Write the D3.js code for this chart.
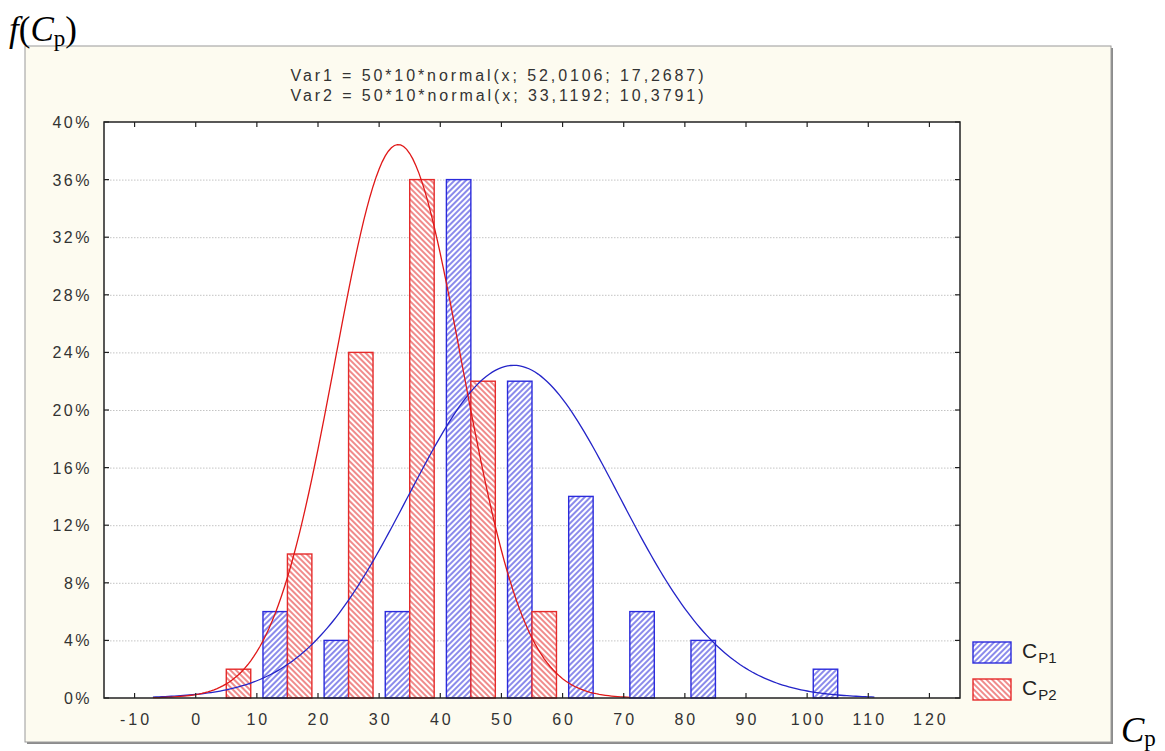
<!DOCTYPE html>
<html>
<head>
<meta charset="utf-8">
<script src="https://cdn.jsdelivr.net/npm/d3@7"></script>
<style>
  html, body { margin: 0; padding: 0; background: #ffffff; }
  svg { display: block; }
  .tick-label { font-family: 'Liberation Sans', Arial, sans-serif; font-size: 16px; fill: #333; }
  .serif { font-family: 'Liberation Serif', 'Times New Roman', serif; fill: #000; }
</style>
</head>
<body>
<svg id="chart" width="1165" height="751"></svg>
<script>
// histogram bins (centre of each 10-wide class) and percentages
const binCenters = [5, 15, 25, 35, 45, 55, 65, 75, 85, 95, 105];
const cp1Values = [0, 6, 4, 6, 36, 22, 14, 6, 4, 0, 2];
const cp2Values = [2, 10, 24, 36, 22, 6, 0, 0, 0, 0, 0];

// fitted normal curves, as printed in the chart header
const fitNames = ['Var1', 'Var2'];
const fitMeans = [52.0106, 33.1192];
const fitSigmas = [17.2687, 10.3791];
const fitFrom = [-7, -7];
const fitTo = [111, 71];

const xTickLabels = [-10, 0, 10, 20, 30, 40, 50, 60, 70, 80, 90, 100, 110, 120];
const yTickLabels = [0, 4, 8, 12, 16, 20, 24, 28, 32, 36, 40];

const seriesColors = ['#2b2bdc', '#e52b2b'];
const curveColors = ['#2424c8', '#e01818'];

const svg = d3.select('#chart');
const defs = svg.append('defs');

const plot = { left: 104, right: 960, top: 122, bottom: 698 };

const x = d3.scaleLinear().domain([-15, 125]).range([plot.left, plot.right]);
const y = d3.scaleLinear().domain([0, 40]).range([plot.bottom, plot.top]);

// hatch patterns: "/" for CP1, "\" for CP2
[45, -45].forEach((angle, i) => {
  const p = defs
    .append('pattern')
    .attr('id', `hatch${i}`)
    .attr('patternUnits', 'userSpaceOnUse')
    .attr('width', 4)
    .attr('height', 4)
    .attr('patternTransform', `rotate(${angle})`);
  p.append('rect').attr('width', 4).attr('height', 4).attr('fill', '#fff');
  p.append('line')
    .attr('x1', 1)
    .attr('y1', 0)
    .attr('x2', 1)
    .attr('y2', 4)
    .attr('stroke', seriesColors[i])
    .attr('stroke-width', 1.1);
});

// outer frame
svg
  .append('rect')
  .attr('x', 27)
  .attr('y', 48)
  .attr('width', 1086)
  .attr('height', 696)
  .attr('fill', '#8c8c8c');
svg
  .append('rect')
  .attr('x', 25)
  .attr('y', 46)
  .attr('width', 1086)
  .attr('height', 696)
  .attr('fill', '#fdfbf0')
  .attr('stroke', '#9a9a9a')
  .attr('stroke-width', 1);

// plot area
svg
  .append('rect')
  .attr('x', plot.left)
  .attr('y', plot.top)
  .attr('width', plot.right - plot.left)
  .attr('height', plot.bottom - plot.top)
  .attr('fill', '#fff');

// grid
svg
  .append('g')
  .selectAll('line')
  .data(yTickLabels.filter(v => v > 0 && v < 40))
  .enter()
  .append('line')
  .attr('x1', plot.left)
  .attr('x2', plot.right)
  .attr('y1', d => y(d) + 0.5)
  .attr('y2', d => y(d) + 0.5)
  .attr('stroke', '#c4c4c4')
  .attr('stroke-width', 1)
  .attr('stroke-dasharray', '1.5,1.5');

// bars
const series = [cp1Values, cp2Values];
series.forEach((values, i) => {
  const bars = binCenters
    .map((c, j) => ({ c, v: values[j] }))
    .filter(d => d.v > 0);
  svg
    .append('g')
    .selectAll('rect')
    .data(bars)
    .enter()
    .append('rect')
    .attr('x', d => (i === 0 ? x(d.c - 4) : x(d.c)))
    .attr('y', d => y(d.v))
    .attr('width', d => x(d.c) - x(d.c - 4))
    .attr('height', d => y(0) - y(d.v))
    .attr('fill', `url(#hatch${i})`)
    .attr('stroke', seriesColors[i])
    .attr('stroke-width', 1.4);
});

// fitted curves: 50*10*normal(x; m; s) counts of 50 cases -> percent
fitMeans.forEach((m, i) => {
  const s = fitSigmas[i];
  const pts = d3.range(fitFrom[i], fitTo[i] + 0.01, 0.5).map(v => {
    const pdf = Math.exp(-0.5 * ((v - m) / s) ** 2) / (s * Math.sqrt(2 * Math.PI));
    return [v, (50 * 10 * pdf * 100) / 50];
  });
  svg
    .append('path')
    .datum(pts)
    .attr('fill', 'none')
    .attr('stroke', curveColors[i])
    .attr('stroke-width', 1.3)
    .attr(
      'd',
      d3
        .line()
        .x(d => x(d[0]))
        .y(d => y(d[1]))
    );
});

// plot border
svg
  .append('rect')
  .attr('x', plot.left)
  .attr('y', plot.top)
  .attr('width', plot.right - plot.left)
  .attr('height', plot.bottom - plot.top)
  .attr('fill', 'none')
  .attr('stroke', '#222')
  .attr('stroke-width', 1.5);

// inner ticks on all four sides
const tickLen = 5;
const ticks = svg.append('g').attr('stroke', '#222').attr('stroke-width', 1.2);
xTickLabels.forEach(v => {
  ticks.append('line').attr('x1', x(v)).attr('x2', x(v)).attr('y1', plot.bottom).attr('y2', plot.bottom - tickLen);
  ticks.append('line').attr('x1', x(v)).attr('x2', x(v)).attr('y1', plot.top).attr('y2', plot.top + tickLen);
});
yTickLabels.forEach(v => {
  ticks.append('line').attr('x1', plot.left).attr('x2', plot.left + tickLen).attr('y1', y(v)).attr('y2', y(v));
  ticks.append('line').attr('x1', plot.right).attr('x2', plot.right - tickLen).attr('y1', y(v)).attr('y2', y(v));
});

// tick labels
svg
  .append('g')
  .selectAll('text')
  .data(xTickLabels)
  .enter()
  .append('text')
  .attr('class', 'tick-label')
  .attr('x', d => x(d) + 1.5)
  .attr('y', 725)
  .attr('text-anchor', 'middle')
  .attr('letter-spacing', '3px')
  .text(d => d);

svg
  .append('g')
  .selectAll('text')
  .data(yTickLabels)
  .enter()
  .append('text')
  .attr('class', 'tick-label')
  .attr('x', 92)
  .attr('y', d => y(d) + 6)
  .attr('text-anchor', 'end')
  .attr('letter-spacing', '2.5px')
  .text(d => `${d}%`);

// header with the fitted functions
const fmt = v => v.toFixed(4).replace('.', ',');
fitNames.forEach((n, i) => {
  svg
    .append('text')
    .attr('class', 'tick-label')
    .attr('x', 497)
    .attr('y', 81 + i * 20)
    .attr('text-anchor', 'middle')
    .attr('textLength', 413)
    .attr('lengthAdjust', 'spacing')
    .text(`${n} = 50*10*normal(x; ${fmt(fitMeans[i])}; ${fmt(fitSigmas[i])})`);
});

// legend
const legendNames = ['P1', 'P2'];
legendNames.forEach((n, i) => {
  const ly = 642 + i * 37;
  svg
    .append('rect')
    .attr('x', 973)
    .attr('y', ly)
    .attr('width', 38)
    .attr('height', 21)
    .attr('fill', `url(#hatch${i})`)
    .attr('stroke', seriesColors[i])
    .attr('stroke-width', 1.4);
  const t = svg
    .append('text')
    .attr('x', 1022)
    .attr('y', ly + 16)
    .style('font-family', "'Liberation Sans', Arial, sans-serif")
    .style('font-size', '21px')
    .attr('fill', '#222');
  t.append('tspan').text('C');
  t.append('tspan').attr('dy', 5).attr('dx', 1).style('font-size', '15px').text(n);
});

// axis titles
const fy = svg.append('text').attr('class', 'serif').attr('x', 9).attr('y', 41).style('font-size', '35px');
fy.append('tspan').style('font-style', 'italic').text('f');
fy.append('tspan').text('(');
fy.append('tspan').style('font-style', 'italic').text('C');
fy.append('tspan').attr('dy', 5).style('font-size', '23px').text('p');
fy.append('tspan').attr('dy', -5).text(')');

const fx = svg.append('text').attr('class', 'serif').attr('x', 1121).attr('y', 742).style('font-size', '35px');
fx.append('tspan').style('font-style', 'italic').text('C');
fx.append('tspan').attr('dy', 4).style('font-size', '23px').text('p');
</script>
</body>
</html>
